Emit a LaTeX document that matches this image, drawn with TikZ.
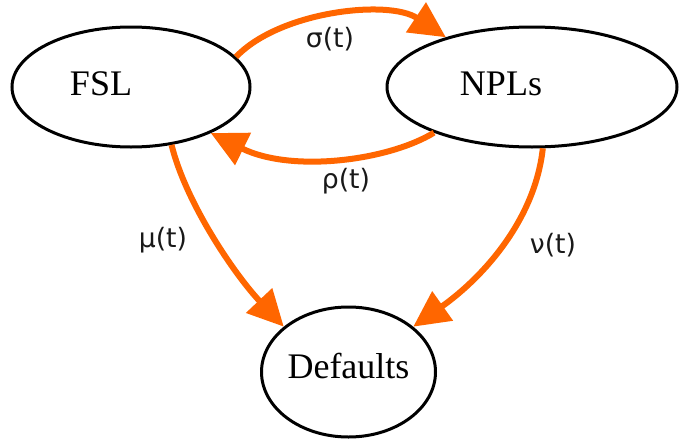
\documentclass[tikz,border=0pt]{standalone}
\usepackage{fontspec}
\setmainfont{Liberation Serif}
\newfontfamily\labfont{DejaVu Sans}
\usetikzlibrary{arrows.meta,shapes.geometric}
\definecolor{arrorange}{HTML}{FF6600}
\begin{document}
\begin{tikzpicture}[x=0.75pt,y=-0.75pt,
  state/.style={draw=black,line width=2.25pt,ellipse,inner sep=0pt},
  nodetext/.style={anchor=base,inner sep=0pt,font=\fontsize{27}{30}\selectfont},
  arr/.style={draw=arrorange,line width=4.5pt,-{Triangle[length=27pt,width=26pt]}},
  lab/.style={inner sep=0pt,font=\labfont\fontsize{20}{22}\selectfont,text=black!90}]
\useasboundingbox[fill=white] (0,0) rectangle (681,446);
\node[state,minimum width=178.5pt,minimum height=90pt] (FSL) at (131,87) {};
\node[state,minimum width=217.5pt,minimum height=90pt] (NPLs) at (532,87) {};
\node[state,minimum width=130.5pt,minimum height=97.5pt] (Def) at (348.5,372) {};
\node[nodetext] (tFSL) at (101,95) {FSL};
\node[nodetext] (tNPLs) at (501,95) {NPLs};
\node[nodetext] (tDef) at (348.5,378) {Defaults};
\draw[arr] (FSL.16) .. controls +(44,-46) and +(-57,-38) .. (NPLs.150);
\draw[arr] (NPLs.205) .. controls +(-46,28) and +(81,40) .. (FSL.-30);
\draw[arr] (FSL.-55) .. controls +(14,57) and +(-50,-53) .. (Def.145);
\draw[arr] (NPLs.-80) .. controls +(-8,73) and +(68,-48) .. (Def.35);
\node[lab] (ls) at (330,39) {σ(t)};
\node[lab] (lr) at (346,181) {ρ(t)};
\node[lab] (lm) at (163,240) {μ(t)};
\node[lab] (ln) at (553,245) {ν(t)};
\end{tikzpicture}
\end{document}
